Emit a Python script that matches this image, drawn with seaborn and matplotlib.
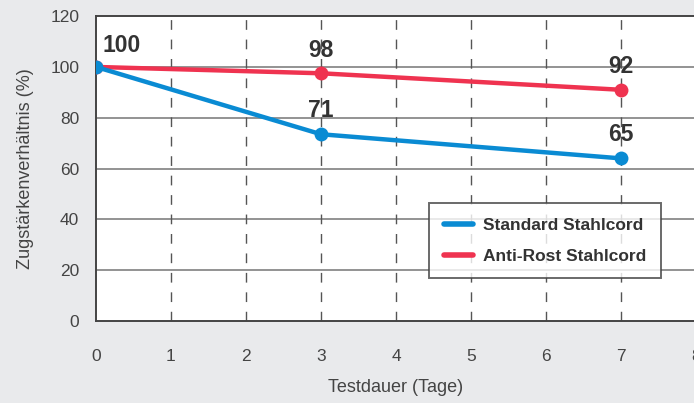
import matplotlib
matplotlib.use("Agg")
import matplotlib.pyplot as plt
import seaborn as sns
import pandas as pd
from matplotlib.lines import Line2D

days = [0, 3, 7]
standard = [100, 73.5, 64.0]
antirost = [100, 97.5, 91.0]
standard_labels = ["100", "71", "65"]
antirost_labels = ["", "98", "92"]
series_names = ["Standard Stahlcord", "Anti-Rost Stahlcord"]
xticks = [0, 1, 2, 3, 4, 5, 6, 7, 8]
yticks = [0, 20, 40, 60, 80, 100, 120]

colors = {"Standard Stahlcord": "#0a8bd3", "Anti-Rost Stahlcord": "#ef3350"}

df = pd.concat([
    pd.DataFrame({"Tage": days, "Wert": standard, "Serie": series_names[0]}),
    pd.DataFrame({"Tage": days, "Wert": antirost, "Serie": series_names[1]}),
])

sns.set_theme(style="white")
plt.rcParams["font.family"] = ["Liberation Sans", "DejaVu Sans"]

bg = "#e9eaec"
fig = plt.figure(figsize=(6.94, 4.03), dpi=100, facecolor=bg)
ax = fig.add_axes([0.1383, 0.2035, 0.8647, 0.7565])
ax.set_facecolor("white")

ax.set_xlim(0, 8)
ax.set_ylim(0, 120)
ax.set_xticks(xticks)
ax.set_yticks(yticks)

for y in yticks[1:-1]:
    ax.axhline(y, color="#8a8a8a", lw=1.3, zorder=1)
for x in xticks[1:-1]:
    ax.axvline(x, color="#555555", lw=1.0, ls=(0, (7, 7)), zorder=1)

sns.lineplot(data=df, x="Tage", y="Wert", hue="Serie", palette=colors,
             hue_order=series_names[::-1], marker="o", markersize=10,
             markeredgewidth=0, linewidth=3.2, ax=ax, legend=False, zorder=3)

for x, y, lab in zip(days, standard, standard_labels):
    if x == 0:
        ax.annotate(lab, (x, y), xytext=(7, 21), textcoords="offset pixels",
                    ha="left", va="center", fontsize=16.5, fontweight="bold", color="#333333")
    else:
        ax.annotate(lab, (x, y), xytext=(0, 24), textcoords="offset pixels",
                    ha="center", va="center", fontsize=16.5, fontweight="bold", color="#333333")
for x, y, lab in zip(days, antirost, antirost_labels):
    if lab:
        ax.annotate(lab, (x, y), xytext=(0, 23), textcoords="offset pixels",
                    ha="center", va="center", fontsize=16.5, fontweight="bold", color="#333333")

for s in ["left", "bottom", "top", "right"]:
    ax.spines[s].set_color("#444444")
    ax.spines[s].set_linewidth(1.4)

ax.tick_params(axis="both", length=0, labelsize=12.5, labelcolor="#444444")
ax.tick_params(axis="x", pad=20)
ax.tick_params(axis="y", pad=12)

ax.set_xlabel("Testdauer (Tage)", fontsize=13, color="#444444", labelpad=11)
ax.set_ylabel("Zugstärkenverhältnis (%)", fontsize=13, color="#444444", labelpad=12)

handles = [Line2D([0], [0], color=colors[n], lw=4) for n in series_names]
leg = ax.legend(handles, series_names, loc="upper left", bbox_to_anchor=(0.555, 0.387),
                borderaxespad=0, frameon=True, fancybox=False,
                prop={"weight": "bold", "size": 12.5}, handlelength=1.7,
                labelspacing=0.9, borderpad=0.85, handletextpad=0.55)
leg.get_frame().set_edgecolor("#444444")
leg.get_frame().set_linewidth(1.4)
for t in leg.get_texts():
    t.set_color("#333333")

fig.savefig("out.png", dpi=100, facecolor=bg)
